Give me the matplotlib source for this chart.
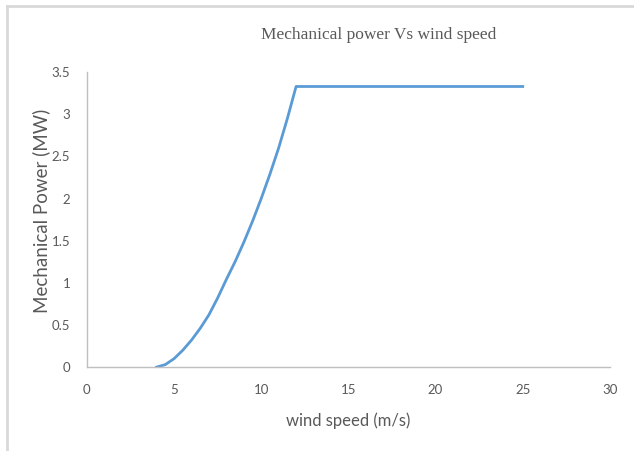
import matplotlib.pyplot as plt
from matplotlib.lines import Line2D

# wind speed (m/s) and mechanical power (MW)
wind_speed = [4, 4.5, 5, 5.5, 6, 6.5, 7, 7.5, 8, 8.5, 9, 9.5, 10, 10.5, 11, 11.5, 12, 25]
power_mw = [0, 0.03, 0.1, 0.2, 0.32, 0.46, 0.62, 0.82, 1.04, 1.25, 1.48, 1.73, 2.0,
            2.29, 2.6, 2.95, 3.33, 3.33]

x_ticks = [0, 5, 10, 15, 20, 25, 30]
y_ticks = [0, 0.5, 1, 1.5, 2, 2.5, 3, 3.5]
y_tick_labels = ['0', '0.5', '1', '1.5', '2', '2.5', '3', '3.5']

fig = plt.figure(figsize=(6.34, 4.51), dpi=100)
ax = fig.add_axes([0.137, 0.186, 0.825, 0.654])

ax.plot(wind_speed, power_mw, color='#5b9bd5', lw=2)

ax.set_xlim(0, 30)
ax.set_ylim(0, 3.5)
ax.set_xticks(x_ticks)
ax.set_yticks(y_ticks)
ax.set_yticklabels(y_tick_labels)
ax.tick_params(length=0, colors='#595959', labelsize=9.5, pad=12)
for lab in ax.get_xticklabels() + ax.get_yticklabels():
    lab.set_fontfamily('Lato')

for s in ['top', 'right']:
    ax.spines[s].set_visible(False)
for s in ['left', 'bottom']:
    ax.spines[s].set_color('#bfbfbf')
    ax.spines[s].set_linewidth(1)

ax.set_xlabel('wind speed (m/s)', fontsize=12, color='#595959', family='Lato')
ax.set_ylabel('Mechanical Power (MW)', fontsize=13.5, color='#595959', family='Lato')
ax.xaxis.set_label_coords(0.5, -0.155)
ax.yaxis.set_label_coords(-0.07, 0.53)

fig.text(0.597, 0.922, 'Mechanical power Vs wind speed', ha='center', va='center',
         fontsize=12.5, color='#595959', family='Liberation Serif')

# gray frame around the chart (top and left edges visible)
fig.add_artist(Line2D([7 / 634, 1], [1 - 6 / 451, 1 - 6 / 451], color='#d9d9d9', lw=2,
                      transform=fig.transFigure))
fig.add_artist(Line2D([7 / 634, 7 / 634], [0, 1 - 6 / 451], color='#d9d9d9', lw=2,
                      transform=fig.transFigure))

fig.savefig('out.png', dpi=100)
